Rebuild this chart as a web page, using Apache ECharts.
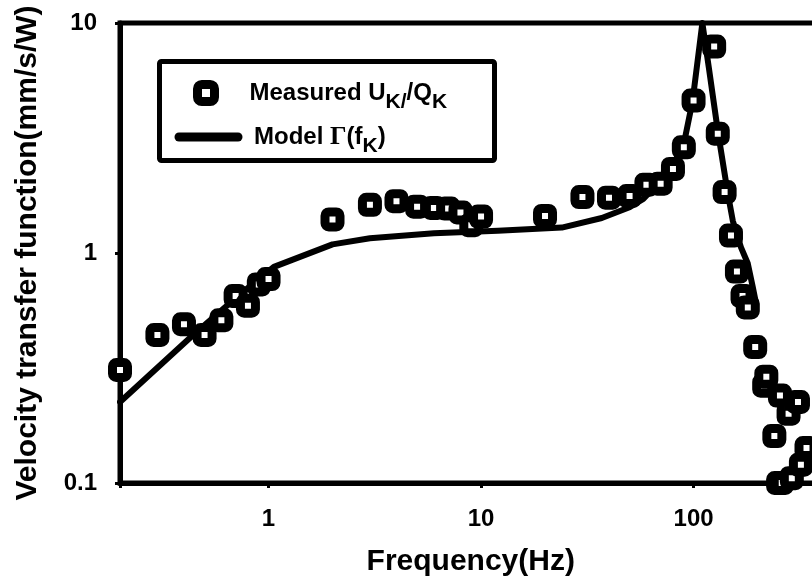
<!DOCTYPE html>
<html><head><meta charset="utf-8">
<script src="https://cdn.jsdelivr.net/npm/echarts@6/dist/echarts.min.js"></script>
<style>html,body{margin:0;padding:0;background:#fff;} #chart{width:812px;height:581px;}</style>
</head><body><div id="chart"></div>
<script>
// ---- data ----
const measuredFreq  = [0.2, 0.3, 0.4, 0.5, 0.6, 0.7, 0.8, 0.9, 1.0, 2, 3, 4, 5, 6, 7, 8, 9, 10, 20, 30, 40, 50, 60, 70, 80, 90, 100, 125, 130, 140, 150, 160, 170, 180, 195, 215, 220, 240, 250, 255, 260, 280, 290, 310, 320, 340];
const measuredValue = [0.31, 0.44, 0.49, 0.44, 0.51, 0.65, 0.59, 0.73, 0.77, 1.40, 1.62, 1.68, 1.59, 1.57, 1.56, 1.50, 1.32, 1.44, 1.45, 1.75, 1.74, 1.77, 1.98, 2.0, 2.32, 2.88, 4.6, 7.9, 3.3, 1.84, 1.19, 0.83, 0.65, 0.58, 0.39, 0.265, 0.29, 0.16, 0.1, 0.24, 0.1, 0.2, 0.105, 0.225, 0.12, 0.142];
const modelFreq  = [0.2, 0.43, 0.69, 1.06, 2, 3, 6, 12, 24, 37, 50, 58, 68, 78, 90, 99, 110, 118, 130, 145, 153, 167, 180, 190, 195];
const modelValue = [0.225, 0.43, 0.63, 0.87, 1.09, 1.16, 1.22, 1.25, 1.29, 1.42, 1.58, 1.72, 2.0, 2.28, 2.98, 4.6, 10, 6.4, 3.4, 1.81, 1.38, 1.06, 0.9, 0.71, 0.63];
const xTickLabels = [1, 10, 100];
const yTickLabels = [0.1, 1, 10];
const xAxisName = 'Frequency(Hz)';
const yAxisName = 'Velocity transfer function(mm/s/W)';
const seriesNames = ['Measured', 'Model'];

const FONT = '"Liberation Sans", Arial, sans-serif';
const SERIF = '"Liberation Serif", "Times New Roman", serif';

function pickLabel(list) {
  return function (v) {
    const m = list.find(t => Math.abs(Math.log10(v) - Math.log10(t)) < 1e-6);
    return m === undefined ? '' : String(m);
  };
}

const chart = echarts.init(document.getElementById('chart'), null, {renderer: 'canvas'});
const legendRich = {
  g:  {width: 30},
  g2: {width: 11},
  n:  {fontFamily: FONT, fontWeight: 'bold', fontSize: 24, color: '#000'},
  s:  {fontFamily: FONT, fontWeight: 'bold', fontSize: 21, color: '#000', padding: [19, 0, 0, 0]},
  gm: {fontFamily: SERIF, fontWeight: 'bold', fontSize: 26, color: '#000'}
};
const option = {
  animation: false,
  backgroundColor: '#fff',
  grid: {left: 120, top: 23, width: 701.5, bottom: 98, outerBoundsMode: 'none', containLabel: false,
         show: true, borderColor: '#000', borderWidth: 5, backgroundColor: 'transparent'},
  xAxis: {
    type: 'log', logBase: 10, min: 0.2, max: 400,
    name: xAxisName, nameLocation: 'middle', nameGap: 64,
    nameTextStyle: {fontFamily: FONT, fontWeight: 'bold', fontSize: 30, color: '#000'},
    axisLine: {show: true, onZero: false, lineStyle: {color: '#000', width: 5}},
    axisTick: {show: true, length: 5, inside: false, lineStyle: {color: '#000', width: 3}},
    minorTick: {show: false}, splitLine: {show: false}, minorSplitLine: {show: false},
    axisLabel: {formatter: pickLabel(xTickLabels), margin: 24, fontFamily: FONT, fontWeight: 'bold', fontSize: 24, color: '#000'}
  },
  yAxis: {
    type: 'log', logBase: 10, min: 0.1, max: 10,
    name: yAxisName, nameLocation: 'middle', nameGap: 77, nameRotate: 90,
    nameTextStyle: {fontFamily: FONT, fontWeight: 'bold', fontSize: 30, color: '#000'},
    axisLine: {show: true, onZero: false, lineStyle: {color: '#000', width: 5}},
    axisTick: {show: true, length: 5, inside: false, lineStyle: {color: '#000', width: 3}},
    minorTick: {show: false}, splitLine: {show: false}, minorSplitLine: {show: false},
    axisLabel: {formatter: pickLabel(yTickLabels), margin: 23, fontFamily: FONT, fontWeight: 'bold', fontSize: 24, color: '#000'}
  },
  legend: [
    {
      data: [{name: seriesNames[0], icon: 'roundRect'}],
      left: 193, top: 80, padding: 0, selectedMode: false,
      itemWidth: 17, itemHeight: 17,
      itemStyle: {color: '#fff', borderColor: '#000', borderWidth: 9},
      formatter: function () { return '{g|}{n|Measured U}{s|K/}{n|/Q}{s|K}'; },
      textStyle: {rich: legendRich, fontFamily: FONT, fontWeight: 'bold', fontSize: 24, color: '#000'}
    },
    {
      data: [{name: seriesNames[1]}],
      left: 174.5, top: 124, padding: 0, selectedMode: false,
      itemWidth: 59, itemHeight: 14,
      lineStyle: {color: '#000', width: 9, cap: 'round'},
      itemStyle: {color: 'transparent', borderColor: 'transparent', borderWidth: 0, opacity: 0},
      formatter: function () { return '{g2|}{n|Model }{gm|Γ}{n|(f}{s|K}{n|)}'; },
      textStyle: {rich: legendRich, fontFamily: FONT, fontWeight: 'bold', fontSize: 24, color: '#000'}
    }
  ],
  graphic: [{
    type: 'rect', z: 1,
    shape: {x: 159.5, y: 61.5, width: 335, height: 99, r: 2},
    style: {fill: 'none', stroke: '#000', lineWidth: 5}
  }],
  series: [
    {
      name: seriesNames[1], type: 'line', z: 2,
      data: modelFreq.map((f, i) => [f, modelValue[i]]),
      symbol: 'none', showSymbol: false, smooth: false,
      lineStyle: {color: '#000', width: 6, cap: 'round', join: 'round'},
      itemStyle: {color: '#000'}
    },
    {
      name: seriesNames[0], type: 'scatter', z: 3,
      data: measuredFreq.map((f, i) => [f, measuredValue[i]]),
      symbol: 'roundRect', symbolSize: 15,
      itemStyle: {color: '#fff', borderColor: '#000', borderWidth: 9, opacity: 1}
    }
  ]
};
chart.setOption(option);
</script>
</body></html>
